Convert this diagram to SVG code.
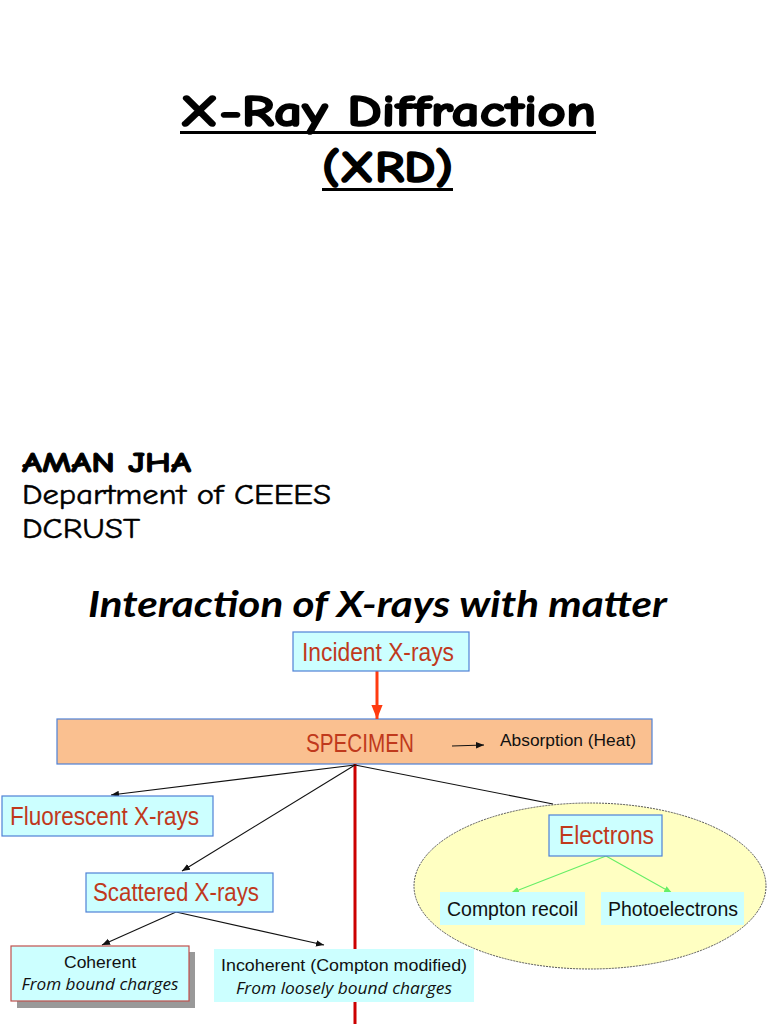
<svg xmlns="http://www.w3.org/2000/svg" width="768" height="1024" viewBox="0 0 768 1024">
<defs>
<style>
.t{font-family:"Comic Neue","DejaVu Sans","Liberation Sans",sans-serif;fill:#000}
.tb{stroke:#000;stroke-width:1.6;paint-order:stroke}
.lbl{font-family:"Liberation Sans Narrow","Liberation Sans",Arial,sans-serif;fill:#c0391c}
.blk{font-family:"Liberation Sans Narrow","Liberation Sans",Arial,sans-serif;fill:#111}
.it{font-family:"Open Sans","Liberation Sans",sans-serif;font-style:italic;fill:#111}
.box{fill:#ccffff;stroke:#4f81d6;stroke-width:1.2}
.con{stroke:#111;stroke-width:1.1;fill:none}
</style>
<marker id="ab" viewBox="0 0 10 10" refX="10" refY="5" markerWidth="8" markerHeight="8" orient="auto" markerUnits="userSpaceOnUse"><path d="M0,1 L10,5 L0,9 z" fill="#111"/></marker>
<marker id="ag" viewBox="0 0 10 10" refX="10" refY="5" markerWidth="8" markerHeight="8" orient="auto" markerUnits="userSpaceOnUse"><path d="M0,1 L10,5 L0,9 z" fill="#66ee66"/></marker>
<marker id="ar" viewBox="0 0 10 10" refX="10" refY="5" markerWidth="14" markerHeight="14" orient="auto" markerUnits="userSpaceOnUse"><path d="M0,1 L10,5 L0,9 z" fill="#ff3b10"/></marker>
</defs>
<rect width="768" height="1024" fill="#fff"/>

<g id="title">
<text class="t tb" x="180" y="126" font-size="44" font-weight="bold" textLength="416" lengthAdjust="spacingAndGlyphs">X-Ray Diffraction</text>
<rect x="180" y="131" width="416" height="3" fill="#000"/>
<text class="t tb" x="322" y="182" font-size="44" font-weight="bold" textLength="131" lengthAdjust="spacingAndGlyphs">(XRD)</text>
<rect x="322" y="188" width="131" height="3" fill="#000"/>
</g>

<g id="author">
<text class="t" x="22" y="472" font-size="28" font-weight="bold" stroke="#000" stroke-width="0.9" textLength="169" lengthAdjust="spacingAndGlyphs">AMAN JHA</text>
<text class="t" x="22" y="504" font-size="28" stroke="#000" stroke-width="0.5" textLength="309" lengthAdjust="spacingAndGlyphs">Department of CEEES</text>
<text class="t" x="22" y="538" font-size="28" stroke="#000" stroke-width="0.5" textLength="118" lengthAdjust="spacingAndGlyphs">DCRUST</text>
</g>

<g id="heading">
<text x="88" y="617" font-family="Lato,'Open Sans',sans-serif" font-style="italic" font-weight="bold" font-size="37" fill="#000" textLength="579" lengthAdjust="spacingAndGlyphs">Interaction of X-rays with matter</text>
</g>

<g id="electrons-group">
<ellipse cx="590" cy="886" rx="176" ry="83" fill="#ffffc2" stroke="#555" stroke-width="1" stroke-dasharray="2 1"/>
</g>

<g id="specimen">
<rect x="57" y="719" width="595" height="45" fill="#fac090" stroke="#4f81d6" stroke-width="1.2"/>
<text class="lbl" x="306" y="752" font-size="25" textLength="108" lengthAdjust="spacingAndGlyphs">SPECIMEN</text>
<text class="blk" x="500" y="746" font-size="17" textLength="136" lengthAdjust="spacingAndGlyphs">Absorption (Heat)</text>
</g>

<g id="connectors">
<line x1="377" y1="671" x2="377" y2="719" stroke="#ff3b10" stroke-width="3" marker-end="url(#ar)"/>
<line x1="355" y1="764" x2="355" y2="1024" stroke="#cc0000" stroke-width="3"/>
<line class="con" x1="355" y1="765" x2="111" y2="795" marker-end="url(#ab)"/>
<line class="con" x1="355" y1="765" x2="182" y2="871" marker-end="url(#ab)"/>
<line class="con" x1="355" y1="765" x2="553" y2="804"/>
<line class="con" x1="176" y1="912" x2="102" y2="945" marker-end="url(#ab)"/>
<line class="con" x1="176" y1="912" x2="324" y2="945" marker-end="url(#ab)"/>
<line class="con" x1="452" y1="746" x2="484" y2="745" marker-end="url(#ab)"/>
<line x1="606" y1="856" x2="511" y2="893" stroke="#66ee66" stroke-width="1.1" marker-end="url(#ag)"/>
<line x1="606" y1="856" x2="672" y2="893" stroke="#66ee66" stroke-width="1.1" marker-end="url(#ag)"/>
</g>

<g id="incident">
<rect class="box" x="293" y="632" width="176" height="39"/>
<text class="lbl" x="302" y="661" font-size="26" textLength="152" lengthAdjust="spacingAndGlyphs">Incident X-rays</text>
</g>

<g id="fluorescent">
<rect class="box" x="2" y="796" width="211" height="40"/>
<text class="lbl" x="10" y="825" font-size="26" textLength="189" lengthAdjust="spacingAndGlyphs">Fluorescent X-rays</text>
</g>

<g id="scattered">
<rect class="box" x="86" y="873" width="187" height="39"/>
<text class="lbl" x="93" y="901" font-size="26" textLength="166" lengthAdjust="spacingAndGlyphs">Scattered X-rays</text>
</g>

<g id="coherent">
<rect x="17" y="952" width="178" height="56" fill="#999"/>
<rect x="11" y="946" width="178" height="55" fill="#ccffff" stroke="#c0504d" stroke-width="1.2"/>
<text class="blk" x="100" y="968" font-size="17" text-anchor="middle" textLength="72" lengthAdjust="spacingAndGlyphs">Coherent</text>
<text class="it" x="100" y="990" font-size="17" text-anchor="middle" textLength="157" lengthAdjust="spacingAndGlyphs">From bound charges</text>
</g>

<g id="incoherent">
<rect x="214" y="949" width="260" height="53" fill="#ccffff"/>
<text class="blk" x="344" y="971" font-size="17" text-anchor="middle" textLength="246" lengthAdjust="spacingAndGlyphs">Incoherent (Compton modified)</text>
<text class="it" x="344" y="994" font-size="17" text-anchor="middle" textLength="216" lengthAdjust="spacingAndGlyphs">From loosely bound charges</text>
</g>

<g id="electrons">
<rect class="box" x="549" y="815" width="113" height="41"/>
<text class="lbl" x="559" y="844" font-size="26" textLength="95" lengthAdjust="spacingAndGlyphs">Electrons</text>
</g>

<g id="compton">
<rect x="440" y="892" width="145" height="33" fill="#ccffff"/>
<text class="blk" x="447" y="916" font-size="20" textLength="131" lengthAdjust="spacingAndGlyphs">Compton recoil</text>
</g>

<g id="photo">
<rect x="601" y="892" width="143" height="33" fill="#ccffff"/>
<text class="blk" x="608" y="916" font-size="20" textLength="130" lengthAdjust="spacingAndGlyphs">Photoelectrons</text>
</g>
</svg>
